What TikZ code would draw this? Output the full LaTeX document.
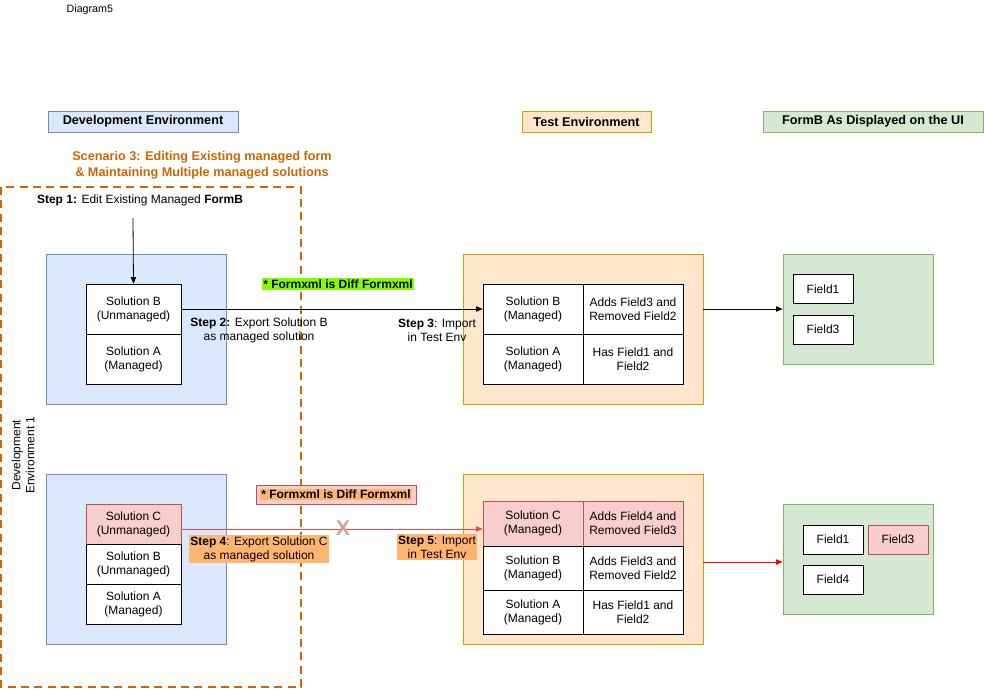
\documentclass[tikz,border=0pt]{standalone}
\usepackage{fontspec}
\setmainfont{Liberation Sans}
\usetikzlibrary{arrows.meta}
\definecolor{bfill}{HTML}{DAE8FC}\definecolor{bline}{HTML}{6C8EBF}
\definecolor{ofill}{HTML}{FFE6CC}\definecolor{oline}{HTML}{D79B00}
\definecolor{gfill}{HTML}{D5E8D4}\definecolor{gline}{HTML}{82B366}
\definecolor{rfill}{HTML}{F8CECC}\definecolor{rline}{HTML}{B85450}
\definecolor{scen}{HTML}{CC6600}\definecolor{hl}{HTML}{FFB570}
\definecolor{lime}{HTML}{80FF00}
\begin{document}
\begin{tikzpicture}[x=0.75pt,y=-0.75pt,font=\fontsize{9}{10.5}\selectfont,
 cell/.style={draw,fill=white,align=center,inner sep=0pt},
 arr/.style={-{Triangle[length=5pt,width=4pt]},line width=0.6pt},
 lbl/.style={align=center,inner sep=1pt}]
\useasboundingbox (0,0) rectangle (984,689);
\node[anchor=west,font=\fontsize{8}{10}\selectfont] (t) at (62,10) {Diagram5};
\node[draw=bline,fill=bfill,minimum width=190*0.75pt,minimum height=21*0.75pt,font=\fontsize{9.5}{10}\selectfont\bfseries] (de) at (143,121.5) {Development Environment};
\node[draw=oline,fill=ofill,minimum width=129*0.75pt,minimum height=21*0.75pt,font=\fontsize{9.5}{10}\selectfont\bfseries] (te) at (586.5,121.5) {Test Environment};
\node[draw=gline,fill=gfill,minimum width=220*0.75pt,minimum height=21*0.75pt,font=\fontsize{9.5}{10}\selectfont\bfseries] (fe) at (873,121.5) {FormB As Displayed on the UI};
\node[lbl,text=scen,font=\fontsize{9.5}{12}\selectfont\bfseries] (sc) at (202,165) {Scenario 3: Editing Existing managed form\\ \& Maintaining Multiple managed solutions};
% containers
\node[draw=bline,fill=bfill,minimum width=180*0.75pt,minimum height=150*0.75pt,inner sep=0pt] (b1) at (136,329) {};
\node[draw=bline,fill=bfill,minimum width=180*0.75pt,minimum height=170*0.75pt,inner sep=0pt] (b2) at (136,559) {};
\node[draw=oline,fill=ofill,minimum width=240*0.75pt,minimum height=150*0.75pt,inner sep=0pt] (o1) at (583,329) {};
\node[draw=oline,fill=ofill,minimum width=240*0.75pt,minimum height=170*0.75pt,inner sep=0pt] (o2) at (583,559) {};
\node[draw=gline,fill=gfill,minimum width=150*0.75pt,minimum height=110*0.75pt,inner sep=0pt] (g1) at (858,309) {};
\node[draw=gline,fill=gfill,minimum width=150*0.75pt,minimum height=110*0.75pt,inner sep=0pt] (g2) at (858,559) {};
% dashed
\draw[scen,line width=1.5pt,dash pattern=on 6pt off 4pt] (1,187) rectangle (301,687);
\node[lbl,rotate=90] (dev1) at (23,455) {Development\\Environment 1};
% top dev stack
\node[cell,minimum width=95*0.75pt,minimum height=50*0.75pt] (sb) at (133.5,309) {Solution B\\(Unmanaged)};
\node[cell,minimum width=95*0.75pt,minimum height=50*0.75pt] (sa) at (133.5,359) {Solution A\\(Managed)};
\node[lbl] (s1) at (140,200) {\textbf{Step 1:} Edit Existing Managed \textbf{FormB}};
\coordinate (s1e) at (133,218);
\draw[arr,black] (s1e) -- (sb.north);
% top test table
\node[cell,minimum width=100*0.75pt,minimum height=50*0.75pt] (tb) at (533,309) {Solution B\\(Managed)};
\node[cell,minimum width=100*0.75pt,minimum height=50*0.75pt] (tbd) at (633,309) {Adds Field3 and\\Removed Field2};
\node[cell,minimum width=100*0.75pt,minimum height=50*0.75pt] (ta) at (533,359) {Solution A\\(Managed)};
\node[cell,minimum width=100*0.75pt,minimum height=50*0.75pt] (tad) at (633,359) {Has Field1 and\\Field2};
\draw[arr] (sb.east) -- (tb.west);
\node[fill=lime,inner sep=1pt,font=\fontsize{9}{10}\selectfont\bfseries] (n1) at (338,284) {* Formxml is Diff Formxml};
\node[lbl] (s2) at (259,330) {\textbf{Step 2:} Export Solution B\\as managed solution};
\node[lbl] (s3) at (437,330) {\textbf{Step 3}: Import\\in Test Env};
\draw[arr] (o1.east|-g1.west) -- (g1.west);
\node[cell,minimum width=60*0.75pt,minimum height=29*0.75pt] (f1) at (823,289) {Field1};
\node[cell,minimum width=60*0.75pt,minimum height=29*0.75pt] (f3) at (823,329.5) {Field3};
% bottom dev stack
\node[cell,fill=rfill,draw=rline,minimum width=95*0.75pt,minimum height=40*0.75pt] (sc2) at (133.5,524) {Solution C\\(Unmanaged)};
\node[cell,minimum width=95*0.75pt,minimum height=40*0.75pt] (sb2) at (133.5,564) {Solution B\\(Unmanaged)};
\node[cell,minimum width=95*0.75pt,minimum height=40*0.75pt] (sa2) at (133.5,604) {Solution A\\(Managed)};
% bottom test table
\node[cell,fill=rfill,draw=rline,minimum width=100*0.75pt,minimum height=45*0.75pt] (tc2) at (533,523.5) {Solution C\\(Managed)};
\node[cell,fill=rfill,draw=rline,minimum width=100*0.75pt,minimum height=45*0.75pt] (tcd2) at (633,523.5) {Adds Field4 and\\Removed Field3};
\node[cell,minimum width=100*0.75pt,minimum height=44*0.75pt] (tb2) at (533,568) {Solution B\\(Managed)};
\node[cell,minimum width=100*0.75pt,minimum height=44*0.75pt] (tbd2) at (633,568) {Adds Field3 and\\Removed Field2};
\node[cell,minimum width=100*0.75pt,minimum height=44*0.75pt] (ta2) at (533,612) {Solution A\\(Managed)};
\node[cell,minimum width=100*0.75pt,minimum height=44*0.75pt] (tad2) at (633,612) {Has Field1 and\\Field2};
\draw[arr,red!75!white] (sc2.east|-0,529) coordinate (ra) -- (tc2.west|-0,529) coordinate (rb);
\node[text=rline!55!white,font=\fontsize{16}{16}\selectfont\bfseries] (x) at (343,528) {X};
\node[draw=rline,fill=rfill,minimum width=160*0.75pt,minimum height=19*0.75pt,inner sep=0pt] (n2) at (336,494.5) {};
\node[fill=hl,inner sep=1pt,font=\fontsize{9}{10}\selectfont\bfseries] (n2t) at (336,494.5) {* Formxml is Diff Formxml};
\node[lbl,fill=hl] (s4) at (259,549) {\textbf{Step 4}: Export Solution C\\as managed solution};
\node[lbl,fill=hl] (s5) at (437,547) {\textbf{Step 5}: Import\\in Test Env};
\draw[arr,red] (o2.east|-0,562) -- (g2.west|-0,562);
\node[cell,minimum width=60*0.75pt,minimum height=29*0.75pt] (g2f1) at (833,539.5) {Field1};
\node[cell,fill=rfill,draw=rline,minimum width=60*0.75pt,minimum height=29*0.75pt] (g2f3) at (898,539.5) {Field3};
\node[cell,minimum width=60*0.75pt,minimum height=29*0.75pt] (g2f4) at (833,579.5) {Field4};
\end{tikzpicture}
\end{document}
